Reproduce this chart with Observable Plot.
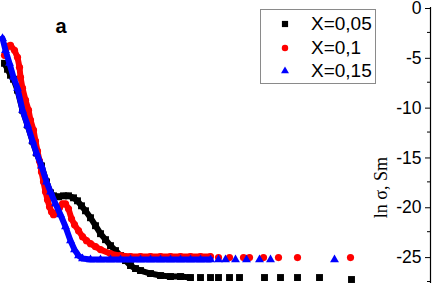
<!DOCTYPE html>
<html><head><meta charset="utf-8">
<script src="https://cdn.jsdelivr.net/npm/d3@7"></script>
<script src="https://cdn.jsdelivr.net/npm/@observablehq/plot@0.6"></script>
<style>
body{margin:0;background:#fff;}
#wrap{position:relative;width:432px;height:283px;overflow:hidden;}
#legend{position:absolute;left:260px;top:9px;width:114px;height:73px;border:1px solid #8a8a8a;background:#fff;font-family:"Liberation Sans",Arial,sans-serif;font-size:19px;color:#000;}
.row{position:absolute;left:0;height:22px;line-height:22px;white-space:nowrap;}
.row svg{position:absolute;left:17px;top:4px;}
.row span{position:absolute;left:50px;top:0;}
</style>
</head><body>
<div id="wrap"><div id="chart"></div><div id="legend"></div></div>
<script>
// Series X=0,05 (black squares)
const x05DenseX = [4,7,10,13,17,22,27,32,36,41,46,50,53,58,63,68,73,77,81,85,90,95,100,105,110,115,120,125,130,135,140,150,160,170,180,190];
const x05DenseY = [-5.6,-6.2,-6.8,-7.2,-8.3,-10.3,-11.8,-13.4,-14.6,-15.9,-17.5,-18.6,-18.9,-19.0,-18.9,-18.9,-19.1,-19.4,-19.9,-20.4,-21.1,-21.9,-22.7,-23.3,-23.9,-24.4,-24.9,-25.4,-25.9,-26.2,-26.4,-26.7,-26.9,-27.0,-27.0,-27.1];
const x05SparseX = [200,210,218,229,239,264,280,297,319,351];
const x05SparseY = [-27.1,-27.1,-27.1,-27.1,-27.1,-27.1,-27.1,-27.1,-27.1,-27.3];
// Series X=0,1 (red circles)
const x1DenseX = [4,7,10,14,17,19,20,22,25,28,30,33,35,37,39,41,43,45,47,49,51,53,56,59,62,65,68,71,74,78,82,86,90,95,100,110,120,130,140,150,160,170,180,190,200,210];
const x1DenseY = [-4.8,-3.9,-3.8,-4.3,-5.0,-6.0,-7.0,-8.1,-9.3,-10.3,-11.3,-12.3,-13.4,-14.4,-15.4,-16.5,-17.5,-18.5,-19.3,-20.0,-20.5,-20.8,-20.6,-20.1,-19.7,-19.7,-20.2,-21.2,-21.8,-22.4,-23.0,-23.4,-23.7,-24.0,-24.3,-24.7,-24.9,-25.0,-25.0,-25.0,-25.0,-25.0,-25.0,-25.0,-25.0,-25.0];
const x1SparseX = [218,229,243,249,263,278,297,350];
const x1SparseY = [-25.1,-25.1,-25.1,-25.1,-25.1,-25.1,-25.1,-25.1];
// Series X=0,15 (blue triangles)
const x15DenseX = [2,5,9,13,17,22,27,32,36,41,46,50,55,60,65,70,74,78,82,90,100,110,120,130,140,150,160,170,180,190,200,210];
const x15DenseY = [-3.1,-4.3,-5.6,-7.0,-8.1,-10.3,-11.8,-13.4,-14.6,-15.9,-17.5,-18.5,-19.7,-20.8,-22.0,-23.4,-24.3,-24.9,-25.2,-25.3,-25.3,-25.3,-25.3,-25.3,-25.3,-25.3,-25.3,-25.3,-25.3,-25.3,-25.3,-25.3];
const x15SparseX = [218,225,235,246,259,270,334];
const x15SparseY = [-25.3,-25.3,-25.3,-25.3,-25.3,-25.3,-25.3];

const seriesNames = ["X=0,05","X=0,1","X=0,15"];
const yTicks = [0,-5,-10,-15,-20,-25];
const yMinorTicks = [-2.5,-7.5,-12.5,-17.5,-22.5,-27.5];
const yLabel = "ln σ, Sm";
const panelLabel = "a";

const zip = (xs, ys) => xs.map((x,i) => ({x, y: ys[i]}));
const series = [
  {name: seriesNames[0], color:"#000000", symbol:"square", r:3.9, dense: zip(x05DenseX,x05DenseY), sparse: zip(x05SparseX,x05SparseY)},
  {name: seriesNames[1], color:"#ff0000", symbol:"circle", r:3.6, dense: zip(x1DenseX,x1DenseY), sparse: zip(x1SparseX,x1SparseY)},
  {name: seriesNames[2], color:"#0000ff", symbol:"triangle", r:3.3, dense: zip(x15DenseX,x15DenseY), sparse: zip(x15SparseX,x15SparseY)}
];

const font = "Liberation Sans, Arial, sans-serif";
const marks = [];
for (const s of series) {
  marks.push(Plot.line(s.dense, {x:"x", y:"y", stroke:s.color, strokeWidth:6}));
  marks.push(Plot.dot([...s.dense, ...s.sparse], {x:"x", y:"y", symbol:s.symbol, fill:s.color, stroke:"none", r:s.r}));
}
marks.push(Plot.frame({anchor:"right", stroke:"#000", strokeWidth:1.2}));
marks.push(Plot.axisY({anchor:"left", frameAnchor:"right", ticks:yTicks, tickSize:5, tickPadding:4, dy:1, fontSize:17.5, fontFamily:font, label:null, tickFormat: d => (d < 0 ? "-" + Math.abs(d) : String(d))}));
marks.push(Plot.axisY({anchor:"left", frameAnchor:"right", ticks:yMinorTicks, tickSize:3, label:null, tickFormat: () => ""}));
marks.push(Plot.text([{t:yLabel, y:-15}], {text:"t", y:"y", frameAnchor:"right", dx:-49, rotate:-90, fontSize:18, fontFamily:"Liberation Serif, Times New Roman, serif", fill:"#000"}));
marks.push(Plot.text([panelLabel], {frameAnchor:"top-left", dx:55, dy:11, textAnchor:"start", fontWeight:"bold", fontSize:20, fontFamily:font, fill:"#000"}));

const chart = Plot.plot({
  width: 432, height: 283,
  marginLeft: 0, marginRight: 2, marginTop: 7, marginBottom: 0,
  style: {background:"#fff", color:"#000", overflow:"visible"},
  x: {domain:[0,430], axis:null},
  y: {domain:[-27.7,0], axis:null},
  marks
});
document.getElementById("chart").appendChild(chart);

// legend
const leg = document.getElementById("legend");
const rowTops = [3, 27, 50];
series.forEach((s, i) => {
  const row = document.createElement("div");
  row.className = "row";
  row.style.top = rowTops[i] + "px";
  const svg = d3.create("svg").attr("width", 14).attr("height", 14);
  const sym = {square: d3.symbolSquare, circle: d3.symbolCircle, triangle: d3.symbolTriangle}[s.symbol];
  svg.append("path").attr("transform","translate(7,7)")
    .attr("d", d3.symbol(sym, Math.PI * s.r * s.r * 0.8)()).attr("fill", s.color);
  row.appendChild(svg.node());
  const sp = document.createElement("span");
  sp.textContent = s.name;
  row.appendChild(sp);
  leg.appendChild(row);
});
</script>
</body></html>
